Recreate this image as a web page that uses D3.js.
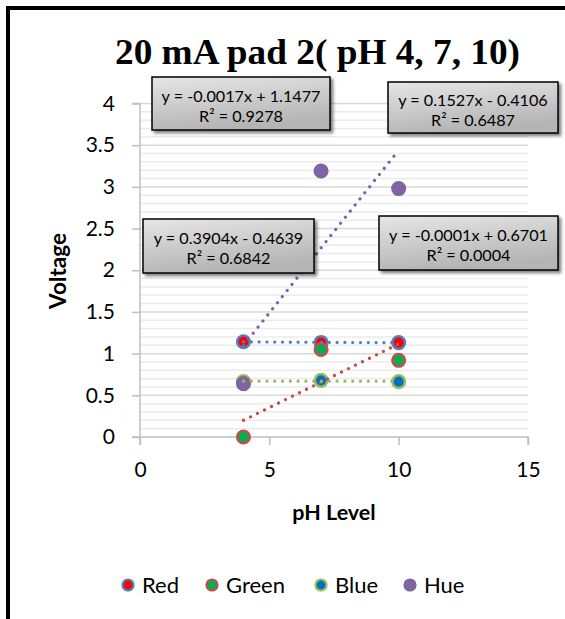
<!DOCTYPE html>
<html>
<head>
<meta charset="utf-8">
<script src="https://cdn.jsdelivr.net/npm/d3@7"></script>
<style>
  html, body { margin: 0; padding: 0; background: #fff; }
  svg { display: block; }
</style>
</head>
<body>
<svg id="chart" width="565" height="619"></svg>
<script>
// ---- data ----
const phLevels = [4, 7, 10];
const seriesNames = ["Red", "Green", "Blue", "Hue"];
const redValues = [1.142, 1.134, 1.132];
const greenValues = [0.0, 1.05, 0.92];
const blueValues = [0.665, 0.679, 0.664];
const hueValues = [0.64, 3.19, 2.98];
// trendline coefficients (as shown in the chart labels)
const trendSlopes = [-0.0017, 0.1527, -0.0001, 0.3904];
const trendIntercepts = [1.1477, -0.4106, 0.6701, -0.4639];
const trendEquations = ["y = -0.0017x + 1.1477", "y = 0.1527x - 0.4106", "y = -0.0001x + 0.6701", "y = 0.3904x - 0.4639"];
const trendR2 = ["R² = 0.9278", "R² = 0.6487", "R² = 0.0004", "R² = 0.6842"];
const xTicks = [0, 5, 10, 15];
const yTicks = [0, 0.5, 1, 1.5, 2, 2.5, 3, 3.5, 4];
const yMinorTicks = d3.range(0, 40).map(i => i / 10);
const titleText = "20 mA pad 2( pH 4, 7, 10)";
const xTitle = "pH Level";
const yTitle = "Voltage";

const seriesValues = [redValues, greenValues, blueValues, hueValues];

// ---- styles ----
const markerFill = ["#ff0000", "#00b050", "#0070c0", "#8064a2"];
const markerStroke = ["#4f81bd", "#c0504d", "#9bbb59", "#8064a2"];
const trendColor = ["#4f81bd", "#c0504d", "#9bbb59", "#8064a2"];
// label box positions (top-left in px) for each trendline label
const labelBoxes = [
  {x: 152, y: 77, w: 178, h: 53},
  {x: 388, y: 82, w: 170, h: 51},
  {x: 379, y: 216, w: 179, h: 54},
  {x: 143, y: 219, w: 171, h: 54}
];
const sansFont = "Lato, 'Open Sans', sans-serif";

const svg = d3.select("#chart");
const defs = svg.append("defs");
const grad = defs.append("linearGradient").attr("id", "boxGrad")
  .attr("x1", "0").attr("y1", "0").attr("x2", "0.3").attr("y2", "1");
grad.append("stop").attr("offset", "0%").attr("stop-color", "#e6e6e6");
grad.append("stop").attr("offset", "100%").attr("stop-color", "#b4b4b4");
const shadow = defs.append("filter").attr("id", "shadow")
  .attr("x", "-10%").attr("y", "-10%").attr("width", "130%").attr("height", "140%");
shadow.append("feDropShadow").attr("dx", 2.5).attr("dy", 2.5).attr("stdDeviation", 1.6)
  .attr("flood-color", "#000").attr("flood-opacity", 0.5);

// frame (left and top thick black edges)
svg.append("line").attr("x1", 6).attr("x2", 565).attr("y1", 8).attr("y2", 8)
  .attr("stroke", "#000").attr("stroke-width", 4);
svg.append("line").attr("x1", 8).attr("x2", 8).attr("y1", 6).attr("y2", 619)
  .attr("stroke", "#000").attr("stroke-width", 4);

const x = d3.scaleLinear().domain([0, 15]).range([140, 528]);
const y = d3.scaleLinear().domain([0, 4]).range([437, 103.5]);

// minor gridlines
svg.append("g").selectAll("line").data(yMinorTicks.filter(v => Math.round(v * 10) % 5 !== 0))
  .join("line")
  .attr("x1", x(0)).attr("x2", x(15))
  .attr("y1", d => y(d)).attr("y2", d => y(d))
  .attr("stroke", "#ebebeb").attr("stroke-width", 1.5);
// major gridlines
svg.append("g").selectAll("line").data(yTicks.filter(v => v > 0))
  .join("line")
  .attr("x1", x(0)).attr("x2", x(15))
  .attr("y1", d => y(d)).attr("y2", d => y(d))
  .attr("stroke", "#d9d9d9").attr("stroke-width", 1.5);

// axes
const yAxis = d3.axisLeft(y).tickValues(yTicks).tickSize(8).tickPadding(17)
  .tickFormat(d => d3.format("")(d));
const gy = svg.append("g").attr("transform", `translate(${x(0)},0)`).call(yAxis);
const xAxis = d3.axisBottom(x).tickValues(xTicks).tickSize(8).tickPadding(17);
const gx = svg.append("g").attr("transform", `translate(0,${y(0)})`).call(xAxis);
[gx, gy].forEach(g => {
  g.select(".domain").attr("stroke", "#bfbfbf").attr("stroke-width", 1.5);
  g.selectAll(".tick line").attr("stroke", "#bfbfbf").attr("stroke-width", 1.5);
  g.selectAll(".tick text").attr("fill", "#000").style("font-family", sansFont).style("font-size", "21px");
});
gy.select(".domain").attr("d", `M-8,${y(4)}H0V${y(0)}H-8`);
gx.select(".domain").attr("d", `M${x(0)},8V0H${x(15)}V8`);

// axis titles
svg.append("text").attr("x", 334).attr("y", 520).attr("text-anchor", "middle")
  .style("font-family", sansFont).style("font-weight", "bold").style("font-size", "21.5px")
  .text(xTitle);
svg.append("text").attr("transform", "translate(66,271) rotate(-90)").attr("text-anchor", "middle")
  .style("font-family", sansFont).style("font-weight", "bold").style("font-size", "22.5px")
  .text(yTitle);

// chart title
svg.append("text").attr("x", 317.5).attr("y", 64).attr("text-anchor", "middle")
  .attr("textLength", 405).attr("lengthAdjust", "spacingAndGlyphs")
  .style("font-family", "'Liberation Serif', 'Times New Roman', serif").style("font-weight", "bold")
  .style("font-size", "35px").text(titleText);

// markers
seriesValues.forEach((vals, si) => {
  svg.append("g").selectAll("circle").data(vals.map((v, i) => ({x: phLevels[i], y: v})))
    .join("circle")
    .attr("cx", d => x(d.x)).attr("cy", d => y(d.y)).attr("r", 6.3)
    .attr("fill", markerFill[si]).attr("stroke", markerStroke[si]).attr("stroke-width", 2.5);
});

// trendlines (dotted), drawn above markers
trendSlopes.forEach((m, si) => {
  const x0 = d3.min(phLevels), x1 = d3.max(phLevels);
  svg.append("line")
    .attr("x1", x(x0)).attr("y1", y(m * x0 + trendIntercepts[si]))
    .attr("x2", x(x1)).attr("y2", y(m * x1 + trendIntercepts[si]))
    .attr("stroke", trendColor[si]).attr("stroke-width", 3.2)
    .attr("stroke-linecap", "round").attr("stroke-dasharray", "0.1 7.7");
});

// trendline labels
labelBoxes.forEach((b, i) => {
  const g = svg.append("g");
  g.append("rect").attr("x", b.x).attr("y", b.y).attr("width", b.w).attr("height", b.h)
    .attr("fill", "url(#boxGrad)").attr("stroke", "#000").attr("stroke-width", 1.5)
    .attr("filter", "url(#shadow)");
  g.append("text").attr("x", b.x + b.w / 2).attr("y", b.y + b.h / 2 - 2).attr("text-anchor", "middle")
    .style("font-family", sansFont).style("font-size", "16.2px").text(trendEquations[i]);
  g.append("text").attr("x", b.x + b.w / 2).attr("y", b.y + b.h / 2 + 18).attr("text-anchor", "middle")
    .style("font-family", sansFont).style("font-size", "16.2px").text(trendR2[i]);
});

// legend
const legendX = [128, 212, 321, 410];
seriesNames.forEach((name, si) => {
  svg.append("circle").attr("cx", legendX[si]).attr("cy", 585).attr("r", 5.5)
    .attr("fill", markerFill[si]).attr("stroke", markerStroke[si]).attr("stroke-width", 2.2);
  svg.append("text").attr("x", legendX[si] + 14).attr("y", 593)
    .style("font-family", sansFont).style("font-size", "22px").text(name);
});
</script>
</body>
</html>
